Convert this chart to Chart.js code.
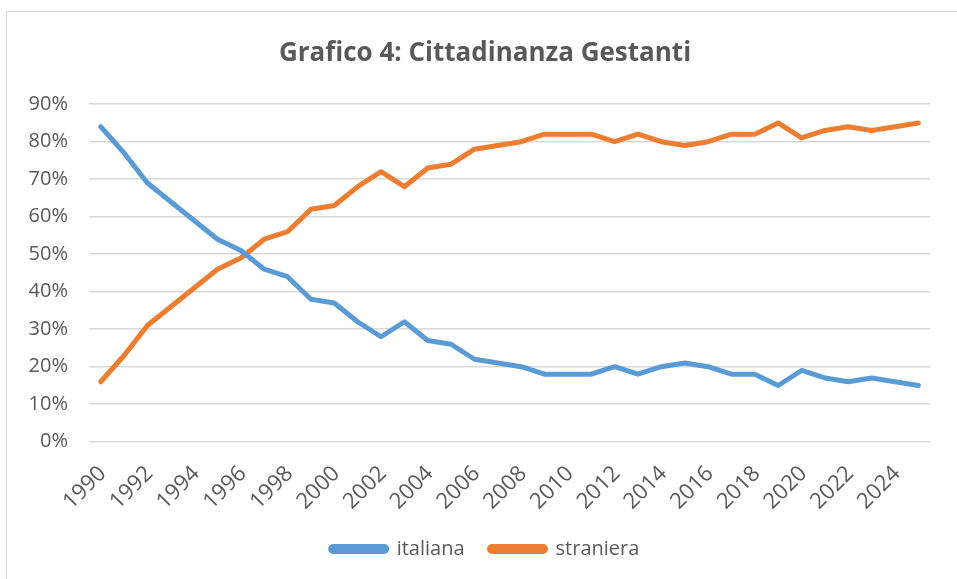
<!DOCTYPE html>
<html>
<head>
<meta charset="utf-8">
<script src="https://cdn.jsdelivr.net/npm/chart.js@4.4.1/dist/chart.umd.min.js"></script>
<style>
  html, body { margin: 0; padding: 0; background: #ffffff; overflow: hidden; }
  #wrap { position: relative; width: 957px; height: 579px; }
  #frame { position: absolute; left: 6px; top: 11px; width: 1000px; height: 700px; border: 1px solid #d9d9d9; box-sizing: border-box; }
  #c { position: absolute; left: 0; top: 0; }
</style>
</head>
<body>
<div id="wrap">
  <div id="frame"></div>
  <canvas id="c" width="957" height="579"></canvas>
</div>
<script>
const years = ['1990','1991','1992','1993','1994','1995','1996','1997','1998','1999',
  '2000','2001','2002','2003','2004','2005','2006','2007','2008','2009',
  '2010','2011','2012','2013','2014','2015','2016','2017','2018','2019',
  '2020','2021','2022','2023','2024','2025'];
const italiana = [84,77,69,64,59,54,51,46,44,38,37,32,28,32,27,26,22,21,20,18,
  18,18,20,18,20,21,20,18,18,15,19,17,16,17,16,15];
const straniera = [16,23,31,36,41,46,49,54,56,62,63,68,72,68,73,74,78,79,80,82,
  82,82,80,82,80,79,80,82,82,85,81,83,84,83,84,85];
const titleText = 'Grafico 4: Cittadinanza Gestanti';
const seriesNames = ['italiana','straniera'];
const yTicks = [0,10,20,30,40,50,60,70,80,90];

const grey = '#595959';

new Chart(document.getElementById('c'), {
  type: 'line',
  data: {
    labels: years,
    datasets: [
      { label: seriesNames[0], data: italiana, borderColor: '#5B9BD5', backgroundColor: '#5B9BD5',
        borderWidth: 5, pointRadius: 0, pointHoverRadius: 0, tension: 0,
        borderCapStyle: 'round', borderJoinStyle: 'round' },
      { label: seriesNames[1], data: straniera, borderColor: '#ED7D31', backgroundColor: '#ED7D31',
        borderWidth: 5, pointRadius: 0, pointHoverRadius: 0, tension: 0,
        borderCapStyle: 'round', borderJoinStyle: 'round' }
    ]
  },
  options: {
    responsive: false,
    animation: false,
    devicePixelRatio: 1,
    layout: { padding: { left: 13, right: 0, top: 20, bottom: 10 } },
    plugins: {
      title: {
        display: true, text: titleText, color: grey,
        font: { family: '"Open Sans"', size: 26, weight: 'bold' },
        padding: { top: 18, bottom: 35 }
      },
      legend: {
        position: 'bottom',
        labels: {
          color: grey,
          font: { family: '"Open Sans"', size: 20 },
          boxWidth: 56, boxHeight: 5,
          useBorderRadius: true, borderRadius: 2.5,
          padding: 25
        }
      },
      tooltip: { enabled: false }
    },
    scales: {
      x: {
        offset: true,
        grid: { display: false },
        border: { display: false },
        afterFit: function(scale) { scale.paddingLeft = 0; scale.paddingRight = 27; scale.height = scale.height - 12; },
        ticks: {
          color: grey,
          font: { family: '"Open Sans"', size: 22 },
          autoSkip: false,
          minRotation: 45, maxRotation: 45,
          padding: 11,
          labelOffset: 2,
          callback: function(v, i) { return i % 2 === 0 ? years[i] : ''; }
        }
      },
      y: {
        min: 0, max: 90,
        afterBuildTicks: function(axis) { axis.ticks = yTicks.map(v => ({ value: v })); },
        afterFit: function(scale) { scale.width = 76; },
        grid: { color: '#d9d9d9', lineWidth: 1.5, drawTicks: false },
        border: { display: false },
        ticks: {
          color: grey,
          font: { family: '"Open Sans"', size: 20 },
          padding: 21,
          callback: function(v) { return v + '%'; }
        }
      }
    }
  }
});
</script>
</body>
</html>
